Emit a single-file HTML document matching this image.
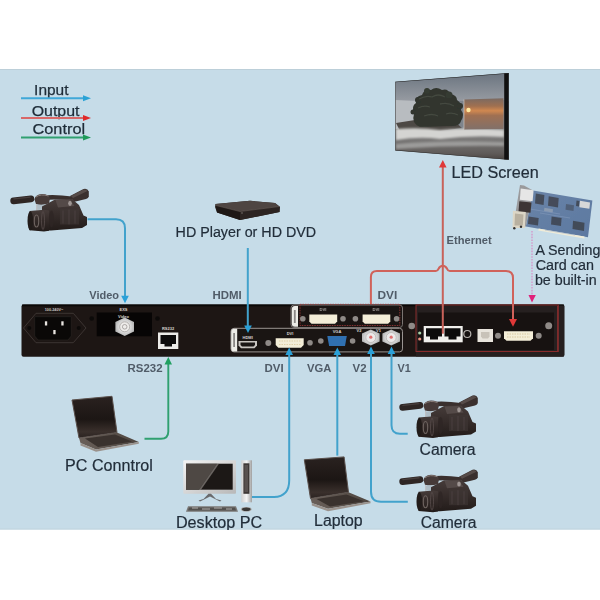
<!DOCTYPE html>
<html><head><meta charset="utf-8">
<style>
html,body{margin:0;padding:0;background:#fff;}
body{width:600px;height:600px;position:relative;overflow:hidden;font-family:"Liberation Sans",sans-serif;}
svg{position:absolute;left:0;top:0;filter:blur(0.55px);}
</style></head><body>
<svg width="600" height="600" viewBox="0 0 600 600" font-family="Liberation Sans, sans-serif">
<defs>
  <clipPath id="bgclip"><rect x="0" y="69" width="600" height="460.5"/></clipPath>
  <filter id="bl1" x="-20%" y="-20%" width="140%" height="140%"><feGaussianBlur stdDeviation="0.6"/></filter>
  <filter id="bl2" x="-20%" y="-20%" width="140%" height="140%"><feGaussianBlur stdDeviation="1.1"/></filter>
  <filter id="bl05" x="-20%" y="-20%" width="140%" height="140%"><feGaussianBlur stdDeviation="0.4"/></filter>
  <linearGradient id="camBody" x1="0" y1="0" x2="0" y2="1">
    <stop offset="0" stop-color="#463c3a"/><stop offset="0.5" stop-color="#352c2a"/><stop offset="1" stop-color="#231c1a"/>
  </linearGradient>
  <linearGradient id="camLens" x1="0" y1="0" x2="0" y2="1">
    <stop offset="0" stop-color="#463c3a"/><stop offset="0.5" stop-color="#332a28"/><stop offset="1" stop-color="#221b19"/>
  </linearGradient>
  <g id="cam">
    <!-- mic -->
    <line x1="402.6" y1="406.4" x2="420" y2="404.4" stroke="#2e2624" stroke-width="6.6" stroke-linecap="round"/>
    <line x1="403" y1="404.4" x2="419" y2="402.6" stroke="#4e4442" stroke-width="1.4" stroke-linecap="round" opacity="0.8"/>
    <!-- handle bar -->
    <path d="M430 401 Q445 399.5 461 402 L461 406 Q445 404 432 406Z" fill="#3a302e"/>
    <!-- grip -->
    <path d="M459 401.5 L472.5 394.5 Q476.5 393.5 477.8 397 L477.8 402 Q477.5 403.5 475 404.5 L462.5 407.5Z" fill="#3a302e"/>
    <path d="M460 401.5 L472.5 395 Q475.5 394.5 476.5 396.5 L462 403.5Z" fill="#5e524f" opacity="0.8"/>
    <!-- mount -->
    <path d="M423.5 405 Q424 400 431 399.5 Q438 399.5 439 404 L438 409 Q431 411 425 409.5Z" fill="#463a38"/>
    <path d="M425 402.5 Q430 399 437.5 401.5" stroke="#8a7e7a" stroke-width="1" fill="none"/>
    <path d="M426 410.5 L438 410.5 L440 415 L425 415.5Z" fill="#a8b4bc" opacity="0.8"/>
    <line x1="425.5" y1="410" x2="426" y2="417" stroke="#c0bec0" stroke-width="1"/>
    <!-- body -->
    <path d="M431 412 L444 405 L461 404.5 L468 410.5 L472.5 421 L476 422.5 L476 430.5 L471 433.5 L440 436 L431 436Z" fill="url(#camBody)"/>
    <path d="M444.5 405.5 L459 405 L463.5 411.5 L447 413Z" fill="#564c4a" opacity="0.9"/>
    <ellipse cx="459" cy="408.8" rx="1.8" ry="2.6" fill="#b8b0ae" opacity="0.75"/>
    <rect x="449" y="414" width="19" height="16" fill="#403735" opacity="0.6"/>
    <path d="M452 416 V429 M458 415 V430 M464 416 V429" stroke="#55494a" stroke-width="1" opacity="0.6"/>
    <!-- lens -->
    <path d="M418.5 416.5 L433 415.2 L438 416 L438 436.2 L433 437 L418.5 435.8Z" fill="url(#camLens)"/>
    <ellipse cx="419.3" cy="426.2" rx="2.8" ry="9.5" fill="#221c1a"/>
    <ellipse cx="425.5" cy="426.5" rx="2.2" ry="6" fill="none" stroke="#6e6460" stroke-width="1.1"/>
    <ellipse cx="432" cy="426" rx="1.5" ry="9" fill="none" stroke="#554a48" stroke-width="0.9"/>
    <ellipse cx="440.5" cy="424.5" rx="2.5" ry="8.5" fill="#2e2624" opacity="0.8"/>
  </g>
  <linearGradient id="sky" x1="0" y1="0" x2="0" y2="1">
    <stop offset="0" stop-color="#66707c"/><stop offset="1" stop-color="#9a9ea4"/>
  </linearGradient>
  <linearGradient id="sea" x1="0" y1="0" x2="0" y2="1">
    <stop offset="0" stop-color="#8c8e90"/><stop offset="0.5" stop-color="#868686"/><stop offset="0.85" stop-color="#5e5a58"/><stop offset="1" stop-color="#3e3834"/>
  </linearGradient>
  <linearGradient id="sunset" x1="0" y1="0" x2="0" y2="1">
    <stop offset="0" stop-color="#7a6a62"/><stop offset="0.25" stop-color="#a07050"/><stop offset="0.4" stop-color="#d08850"/><stop offset="0.55" stop-color="#a07052"/><stop offset="1" stop-color="#80706a"/>
  </linearGradient>
  <clipPath id="scr"><path d="M395.2 81.7 L508.75 72.9 L508.75 159.8 L395.2 150.4Z"/></clipPath>
  <linearGradient id="pcb" x1="0" y1="0" x2="1" y2="1">
    <stop offset="0" stop-color="#6a84a8"/><stop offset="1" stop-color="#5c78a0"/>
  </linearGradient>
  <linearGradient id="lapScr" x1="0" y1="0" x2="0" y2="1">
    <stop offset="0" stop-color="#2a2220"/><stop offset="0.55" stop-color="#1c1614"/><stop offset="0.85" stop-color="#3a302c"/><stop offset="1" stop-color="#2a2220"/>
  </linearGradient>
  <linearGradient id="lapBase" x1="0" y1="0" x2="1" y2="0">
    <stop offset="0" stop-color="#6a605a"/><stop offset="1" stop-color="#4e4640"/>
  </linearGradient>
  <linearGradient id="monScr" x1="0" y1="1" x2="1" y2="0">
    <stop offset="0" stop-color="#141414"/><stop offset="0.55" stop-color="#2a2a2a"/><stop offset="0.58" stop-color="#5a5a5a"/><stop offset="1" stop-color="#8a8a8a"/>
  </linearGradient>
  <linearGradient id="silver" x1="0" y1="0" x2="1" y2="1">
    <stop offset="0" stop-color="#f4f4f4"/><stop offset="1" stop-color="#b8b8b8"/>
  </linearGradient>
  <linearGradient id="tower" x1="0" y1="0" x2="1" y2="0">
    <stop offset="0" stop-color="#d0d0d0"/><stop offset="0.5" stop-color="#f4f4f4"/><stop offset="1" stop-color="#a0a0a0"/>
  </linearGradient>
  <radialGradient id="bncG" cx="0.5" cy="0.5" r="0.5">
    <stop offset="0" stop-color="#f0f0f0"/><stop offset="0.6" stop-color="#dcdcdc"/><stop offset="1" stop-color="#b8b8b8"/>
  </radialGradient>
</defs>
<rect x="0" y="69" width="600" height="460.5" fill="#c6dce8"/>
<rect x="0" y="69" width="600" height="1" fill="#bccfd9"/>
<rect x="0" y="528.5" width="600" height="1" fill="#c0d3dd"/>
<g clip-path="url(#bgclip)">

<!-- IMAGES -->
<use href="#cam" x="0" y="1"/>
<use href="#cam" x="-389" y="-205.5"/>
<use href="#cam" x="0" y="75.2"/>

<!-- LED screen -->
<g clip-path="url(#scr)">
  <rect x="390" y="70" width="120" height="33" fill="url(#sky)"/>
  <rect x="390" y="101" width="120" height="62" fill="url(#sea)"/>
  <g filter="url(#bl1)">
    <path d="M395 100 L418 101 L416 127 L395 129Z" fill="#b8bcc0"/>
    <path d="M455 101 L505 100 L505 129 L455 129Z" fill="#7e848c"/>
    <path d="M396 123 L415 120 L455 122 L462 128 L440 131 L400 131Z" fill="#4e4844"/>
    <path d="M414 114 Q411 106 416 103 Q415 96 422 95 Q424 89 431 90 Q436 86 442 90 Q448 88 450 94 Q457 95 457 100 Q463 104 461 110 Q465 115 461 121 Q460 126 452 126 L420 127 Q411 123 414 114Z" fill="#30352e"/>
    <circle cx="418" cy="100" r="3" fill="#30352e"/><circle cx="427" cy="91" r="3" fill="#343a32"/><circle cx="449" cy="95" r="3.5" fill="#343a32"/>
    <circle cx="460" cy="106" r="3" fill="#30352e"/><circle cx="413" cy="112" r="2.5" fill="#30352e"/>
    <path d="M419 99 Q426 95 432 97 Q438 93 445 97 M418 108 Q424 105 430 107 M440 104 Q448 102 454 106 M424 116 Q432 113 438 116 M446 114 Q452 112 458 115" stroke="#4a4e44" stroke-width="1.3" fill="none" opacity="0.8"/>
  </g>
  <g filter="url(#bl2)">
    <path d="M396 129 Q420 127 440 130 Q470 127 504 130 L504 137 Q470 135 440 139 Q420 136 396 140Z" fill="#d4d4d2"/>
    <path d="M396 144 Q440 140 504 142 L504 146 Q450 145 396 149Z" fill="#a8a8a6" opacity="0.8"/>
  </g>
  <path d="M464 99.4 L503.5 98.2 L503.5 129 L464 129.6Z" fill="url(#sunset)"/>
  <path d="M464 99.4 L464 129.6" stroke="#d8d0c8" stroke-width="1" opacity="0.6"/>
  <circle cx="468.5" cy="110" r="2.2" fill="#ffe8a0" filter="url(#bl05)"/>
  <path d="M504.2 70 L510 70 L510 162 L504.2 162Z" fill="#111"/>
  <path d="M395.2 81.7 L508.75 72.9" stroke="#222" stroke-width="1.2"/>
  <path d="M395.2 150.4 L508.75 159.8" stroke="#333" stroke-width="1"/>
  <path d="M395.2 81.7 L395.2 150.4" stroke="#444" stroke-width="1"/>
</g>

<!-- HD player -->
<path d="M215.5 204 L250 200.8 L275 203 L280 207 L279.5 212 L240 220 L217 212.5 L215 207Z" fill="#2a2321"/>
<path d="M215.5 204 L250 200.8 L275 203 L279.5 206.5 L240 211.5 L216 205.5Z" fill="#4e4542"/>
<path d="M216 205.5 L240 211.5 L240 220 L217 212.5Z" fill="#1e1816"/>
<path d="M240 211.5 L279.5 206.5 L279.5 212 L240 220Z" fill="#2c2422"/>
<path d="M216 205.5 L240 211.5 L279.5 206.5" fill="none" stroke="#6a605a" stroke-width="0.6"/>
<circle cx="242" cy="213" r="0.7" fill="#8a8480"/>

<!-- sending card -->
<g filter="url(#bl05)">
<path d="M533 190.6 L592.4 200.6 L588 237.2 L525.8 226.4Z" fill="url(#pcb)"/>
<path d="M538.7 228.6 L584.5 236.5 L584.3 238.6 L538.3 230.6Z" fill="#f0ecd8"/>
<g fill="#3c4048" opacity="0.8">
  <path d="M535.8 193.5 L544.4 195 L543.6 205 L535 203.5Z"/>
  <path d="M548.7 196.3 L558.7 198 L558 207.5 L548 205.8Z"/>
  <path d="M528.6 216.4 L538.7 218 L538 225.5 L528 224Z"/>
  <path d="M551.6 216.4 L561.6 218 L561 226 L551 224.4Z"/>
  <path d="M573 220.7 L584.5 222.7 L584 231 L572.5 229Z"/>
  <path d="M566 204 L574 205.3 L573.5 211 L565.5 209.7Z" opacity="0.6"/>
  <path d="M576.5 200.5 L579.5 201 L579 206.5 L576 206Z"/>
</g>
<path d="M544.4 207.8 L553 209.2 L552.6 212.5 L544 211Z" fill="#8a9ab0"/>
<path d="M580 200.8 L590 202.5 L589.4 208.8 L579.4 207.2Z" fill="#d8d8d8"/>
<path d="M540 213 L570 218 M530 209 L560 214 M545 230 L575 235" stroke="#8aa0c0" stroke-width="0.8" opacity="0.6"/>
<path d="M520 184.9 L524 185.5 L533 190.6 L525.8 226.4 L513 228.5Z" fill="#9a9a9c"/>
<path d="M520.7 188.5 L533.6 190.3 L532.6 201.3 L519.9 199.8Z" fill="#e6e6e6"/>
<path d="M519.3 201.3 L531.5 202.5 L530.5 212.8 L518.5 211.8Z" fill="#3e3634"/>
<path d="M512.9 210.7 L525.8 212 L524.8 227.9 L512.5 228Z" fill="#dcd6c6"/>
<path d="M515 213.5 L523.5 214.5 L522.8 225.5 L514.5 225.5Z" fill="#b8b0a0"/>
<circle cx="514.3" cy="228.3" r="1.2" fill="#333"/>
<circle cx="521" cy="226.8" r="1.2" fill="#333"/>
</g>

<!-- PC control laptop -->
<path d="M72 400 L112 396.3 L117 432.5 L79 438Z" fill="url(#lapScr)" stroke="#5a504c" stroke-width="1"/>
<path d="M79 438 L117 432.5 L138.8 442 L96 449.5 L80.5 443Z" fill="url(#lapBase)"/>
<path d="M85 438.5 L115 434.5 L132 441.5 L98 447Z" fill="#3a322e"/>
<path d="M80.5 443 L96 449.5 L138.8 442 L138.8 443.8 L96 451.8 L80.5 445.5Z" fill="#9a928c"/>

<!-- Laptop -->
<path d="M304.3 459.8 L344.1 456.9 L348.5 492.3 L310.5 498.5Z" fill="url(#lapScr)" stroke="#5a504c" stroke-width="1"/>
<path d="M310.5 498.5 L348.5 492.3 L370.5 501.5 L328 508.8 L311.8 503Z" fill="url(#lapBase)"/>
<path d="M316.5 499 L346.5 494.5 L364 501.2 L330 506.5Z" fill="#3a322e"/>
<path d="M311.8 503 L328 508.8 L370.5 501.5 L370.5 503.3 L328 511.3 L311.8 505.5Z" fill="#9a928c"/>

<!-- Desktop PC -->
<rect x="183.3" y="460.3" width="52.7" height="33.4" rx="1" fill="url(#silver)"/>
<rect x="186" y="463.7" width="46.7" height="26" fill="#1c1816"/>
<path d="M186 463.7 L217 463.7 L199 489.7 L186 489.7Z" fill="#4e4844"/>
<path d="M217 463.7 L219 463.7 L201 489.7 L199 489.7Z" fill="#8a8480" opacity="0.7"/>
<path d="M208.5 493.7 L211 493.7 L216 499 L221.5 500.5 L220 501.5 L210 496.5 L200 501.5 L198.5 500.5 L203.5 499Z" fill="#6a6a6c"/>
<rect x="241.3" y="460.3" width="10.7" height="42" fill="url(#tower)"/>
<rect x="243.4" y="463.3" width="6" height="30.5" fill="#3e3836"/>
<rect x="244.5" y="465" width="3.5" height="27" fill="#6a6260" opacity="0.6"/>
<path d="M188 506.3 L236 506.3 L238 511.7 L186 511.7Z" fill="#7a7876"/>
<path d="M189 507.5 L235 507.5 L236 510.5 L188 510.5Z" fill="#52504e"/>
<path d="M192 508 H198 M202 509 H210 M214 508 H222 M226 509 H232" stroke="#b0aeac" stroke-width="1"/>
<ellipse cx="246.3" cy="509.3" rx="5.3" ry="2.4" fill="#aaa8a6"/>
<ellipse cx="246.3" cy="509.3" rx="4.3" ry="1.8" fill="#3a3836"/>

<!-- DEVICE -->
<g id="device">
  <rect x="21.5" y="304.5" width="543" height="52.3" rx="2" fill="#1d1614"/>
  <rect x="22" y="304.5" width="542" height="1.8" fill="#0a0807"/>
  <!-- power -->
  <path d="M23.5 328 L36 313.3 L73.3 313.3 L86 328 L73.3 342.7 L36 342.7Z" fill="none" stroke="#403836" stroke-width="0.9"/>
  <circle cx="29.3" cy="328" r="2" fill="#0c0a09"/>
  <circle cx="78.7" cy="328" r="2" fill="#0c0a09"/>
  <path d="M34.7 316.7 H71.3 V336 L68 340 H38 L34.7 336Z" fill="#0a0807" stroke="#2a2624" stroke-width="0.6"/>
  <rect x="44.9" y="321.3" width="2.3" height="4.2" fill="#e8e4e0"/>
  <rect x="61.3" y="321.3" width="2.3" height="4.2" fill="#e8e4e0"/>
  <rect x="53.3" y="330" width="2.3" height="4.2" fill="#e8e4e0"/>
  <text x="54" y="311" font-size="3.8" fill="#c8c4c0" text-anchor="middle" font-weight="bold">100-240V~</text>
  <!-- EXS video -->
  <rect x="96.7" y="312.5" width="55.3" height="23.8" fill="#070505"/>
  <text x="123.5" y="310.5" font-size="4" fill="#d8d4d0" text-anchor="middle" font-weight="bold">EXS</text>
  <text x="123.5" y="317.5" font-size="4" fill="#d8d4d0" text-anchor="middle" font-weight="bold">Video</text>
  <circle cx="91.7" cy="318.5" r="2.3" fill="#0c0a09"/>
  <circle cx="157.5" cy="318.5" r="2.3" fill="#0c0a09"/>
  <path d="M124.7 317.5 L134 322 L134 331.5 L124.7 336 L115.4 331.5 L115.4 322Z" fill="url(#bncG)"/>
  <circle cx="124.7" cy="326.8" r="5" fill="#eeecea" stroke="#a8a4a2" stroke-width="0.8"/>
  <circle cx="124.7" cy="326.8" r="2.3" fill="none" stroke="#9a9694" stroke-width="0.8"/>
  <!-- RS232 -->
  <text x="168" y="329.5" font-size="4" fill="#d8d4d0" text-anchor="middle" font-weight="bold">RS232</text>
  <rect x="158" y="332.5" width="20.3" height="16.5" fill="#ecebe8"/>
  <path d="M160.5 335 H176 V344 H172 V346.5 H164.5 V344 H160.5Z" fill="#0c0b0b"/>

  <!-- middle lower module -->
  <rect x="231" y="328.3" width="171.5" height="23.6" rx="3" fill="#1a1513" stroke="#9a9492" stroke-width="1"/>
  <path d="M237.2 328.8 V351.6 H234 Q231.2 351.6 231.2 348.5 V331.8 Q231.2 328.8 234 328.8Z" fill="#ecebe6"/>
  <rect x="233.2" y="333" width="1.8" height="14" fill="#6a6664" opacity="0.75"/>
  <text x="247.7" y="338.5" font-size="4" fill="#d8d4d0" text-anchor="middle" font-weight="bold">HDMI</text>
  <path d="M238.5 341 H257 V345.5 L254.5 348.3 H241 L238.5 345.5Z" fill="#c8c4c0"/>
  <path d="M240.5 342.6 H255 V345 L253.5 346.6 H242 L240.5 345Z" fill="#1a1615"/>
  <circle cx="268.3" cy="343" r="3" fill="#8f8a87"/>
  <text x="290" y="334.5" font-size="4" fill="#d8d4d0" text-anchor="middle" font-weight="bold">DVI</text>
  <path d="M275.7 338.3 H303.7 V345 L301 347.7 H278.4 L275.7 345Z" fill="#f4eed8"/>
  <path d="M279 341 H300.5 M279 344.5 H300.5" stroke="#e0d0a8" stroke-width="1" stroke-dasharray="1.5 1"/>
  <path d="M312.3 317.3 H334.3 M312.3 320.7 H334.3" stroke="#e0d0a8" stroke-width="1" stroke-dasharray="1.5 1"/>
  <path d="M365.6 317.3 H387.5 M365.6 320.7 H387.5" stroke="#e0d0a8" stroke-width="1" stroke-dasharray="1.5 1"/>
  <circle cx="310" cy="342.8" r="2.8" fill="#8f8a87"/>
  <circle cx="320.8" cy="341" r="2.8" fill="#8f8a87"/>
  <text x="337" y="333" font-size="4" fill="#d8d4d0" text-anchor="middle" font-weight="bold">VGA</text>
  <path d="M327.3 336 H346.8 L345 346 H329.1Z" fill="#3070b0"/>
  <circle cx="352.6" cy="341" r="2.8" fill="#8f8a87"/>
  <text x="359" y="332" font-size="4" fill="#d8d4d0" text-anchor="middle" font-weight="bold">V2</text>
  <text x="378.5" y="332" font-size="4" fill="#d8d4d0" text-anchor="middle" font-weight="bold">V1</text>
  <g id="bnc">
    <path d="M370.8 329.6 L379.6 333.5 L379.6 341.5 L370.8 345.4 L362 341.5 L362 333.5Z" fill="url(#bncG)"/>
    <circle cx="370.8" cy="337.5" r="5" fill="#eceaea" stroke="#b0acaa" stroke-width="0.7"/>
    <circle cx="370.8" cy="337.2" r="1.6" fill="#e07070"/>
  </g>
  <use href="#bnc" x="20.4"/>

  <!-- upper module -->
  <rect x="291" y="305" width="111.5" height="22.5" rx="3" fill="#1a1513" stroke="#7a7472" stroke-width="1"/>
  <path d="M298 306.1 V326.8 H294.8 Q291.8 326.8 291.8 323.8 V309.1 Q291.8 306.1 294.8 306.1Z" fill="#ecebe6"/>
  <rect x="293.9" y="310" width="1.8" height="13" fill="#6a6664" opacity="0.75"/>
  <rect x="300" y="304.3" width="99.8" height="21.2" fill="none" stroke="#a03838" stroke-width="0.8" stroke-dasharray="1.5 1"/>
  <text x="323" y="311" font-size="4.2" fill="#a8a4a0" text-anchor="middle" font-weight="bold">DVI</text>
  <text x="376" y="311" font-size="4.2" fill="#a8a4a0" text-anchor="middle" font-weight="bold">DVI</text>
  <path d="M309.3 314.4 H337.2 V321.5 L335 323.8 H311.5 L309.3 321.5Z" fill="#f4eed8"/>
  <path d="M362.6 314.4 H390.3 V321.5 L388.1 323.8 H364.8 L362.6 321.5Z" fill="#f4eed8"/>
  <circle cx="302.8" cy="318.8" r="2.8" fill="#8f8a87"/>
  <circle cx="343" cy="318.8" r="2.8" fill="#8f8a87"/>
  <circle cx="355.4" cy="318.8" r="2.8" fill="#8f8a87"/>
  <circle cx="396.6" cy="318.8" r="2.8" fill="#8f8a87"/>

  <!-- right module -->
  <rect x="416" y="305.5" width="148" height="51" fill="#262020"/>
  <rect x="418" y="312.5" width="136" height="37.5" fill="#171211"/>
  <rect x="557" y="306" width="1" height="45" fill="#7a2c2c"/>
  <rect x="416" y="305" width="142.3" height="46.5" fill="none" stroke="#8a2c2c" stroke-width="1"/>
  <circle cx="411.7" cy="326" r="3.3" fill="#8f8a87"/>
  <circle cx="419.7" cy="333" r="1.6" fill="#a8d0a8"/>
  <circle cx="419.7" cy="339" r="1.6" fill="#e89080"/>
  <rect x="423.7" y="326" width="39" height="16.3" fill="#f0efec"/>
  <path d="M426 328.3 H442 V336.5 H438 V339.5 H430 V336.5 H426Z" fill="#0c0b0b"/>
  <path d="M444.5 328.3 H460.5 V336.5 H456.5 V339.5 H448.5 V336.5 H444.5Z" fill="#0c0b0b"/>
  <circle cx="467.3" cy="334" r="3.5" fill="none" stroke="#b8b4b0" stroke-width="1.2"/>
  <rect x="477.5" y="329" width="15.5" height="13" fill="#e8e4dc"/>
  <path d="M481 332 H489.5 V336.5 L488 338.5 H482.5 L481 336.5Z" fill="#c8c2b8"/>
  <circle cx="498" cy="335.8" r="3" fill="#8f8a87"/>
  <path d="M504 331.3 H533 V338.3 L530.5 340.8 H506.5 L504 338.3Z" fill="#f4eed8"/>
  <path d="M507 334 H530 M507 337 H530" stroke="#d8c8a0" stroke-width="1" stroke-dasharray="1.5 1"/>
  <circle cx="538.7" cy="335.8" r="3" fill="#8f8a87"/>
  <circle cx="548.7" cy="325.8" r="3.5" fill="#8f8a87"/>
</g>

<!-- LINES -->
<g fill="none" stroke-width="2">
  <path d="M87.5 219.3 H116 Q125 219.3 125 228.3 V297" stroke="#42a2cc"/>
  <path d="M247.8 248 V327" stroke="#42a2cc"/>
  <path d="M252 497.1 H272.5 Q289.2 497.1 289.2 480.4 V354" stroke="#42a2cc"/>
  <path d="M337.3 455.6 V354" stroke="#42a2cc"/>
  <path d="M407.8 501.8 H381 Q371 501.8 371 491.8 V351" stroke="#42a2cc"/>
  <path d="M407.7 433.7 H400 Q391.5 433.7 391.5 425.2 V351" stroke="#42a2cc"/>
  <path d="M144.5 438.7 H161 Q168.3 438.7 168.3 431.4 V363" stroke="#30a070" stroke-width="1.9"/>
  <path d="M442.8 333.7 V167" stroke="#c8625a"/>
  <path d="M370.9 304 V277 Q370.9 271 376.9 271 H435.8 Q437.8 271 438.4 269 Q440 265.8 442.8 265.8 Q445.6 265.8 447.2 269 Q447.8 271 449.8 271 H506 Q513 271 513 278 V320" stroke="#d0625a"/>
  <path d="M532 231 V295" stroke="#d49ccc" stroke-width="1.5" stroke-dasharray="1.6 1.2"/>
</g>
<g>
  <path d="M121.2 295.8 L128.8 295.8 L125 303.3Z" fill="#2aa0d8"/>
  <path d="M244.2 325.5 L251.8 325.5 L248 333Z" fill="#2aa0d8"/>
  <path d="M285.4 355 L293 355 L289.2 347.5Z" fill="#2aa0d8"/>
  <path d="M333.5 355 L341.1 355 L337.3 347.5Z" fill="#2aa0d8"/>
  <path d="M367.2 354 L374.8 354 L371 346.5Z" fill="#2aa0d8"/>
  <path d="M387.7 354 L395.3 354 L391.5 346.5Z" fill="#2aa0d8"/>
  <path d="M164.5 364.5 L172 364.5 L168.3 357Z" fill="#20a060"/>
  <path d="M439 167.6 L446.6 167.6 L442.8 160Z" fill="#e03838"/>
  <path d="M509 319 L517 319 L513 326.7Z" fill="#e03838"/>
  <path d="M528.5 295 L535.8 295 L532 302.5Z" fill="#e0207a"/>
</g>

<!-- legend -->
<g fill="#1e2c38" stroke="#1e2c38" stroke-width="0.25" font-size="15.5">
  <text x="34.1" y="94.6" textLength="34.4" lengthAdjust="spacingAndGlyphs">Input</text>
  <text x="31.7" y="115.7" textLength="47.8" lengthAdjust="spacingAndGlyphs">Output</text>
  <text x="32.5" y="134.0" textLength="52.6" lengthAdjust="spacingAndGlyphs">Control</text>
</g>
<line x1="21" y1="98.2" x2="84" y2="98.2" stroke="#40a8d8" stroke-width="2"/>
<path d="M83 95.2 L91 98.2 L83 101.2Z" fill="#2aa3d6"/>
<line x1="21" y1="118" x2="84" y2="118" stroke="#d86868" stroke-width="2"/>
<path d="M83 115 L91 118 L83 121Z" fill="#e02a2a"/>
<line x1="21" y1="137.5" x2="84" y2="137.5" stroke="#30a070" stroke-width="2"/>
<path d="M83 134.5 L91 137.5 L83 140.5Z" fill="#1f9a5a"/>

<!-- big labels -->
<g fill="#222e3a" stroke="#222e3a" stroke-width="0.2" font-size="15.5">
  <text x="175.6" y="236.9" textLength="140.5" lengthAdjust="spacingAndGlyphs">HD Player or HD DVD</text>
  <text x="451.5" y="177.9" font-size="16" textLength="87.2" lengthAdjust="spacingAndGlyphs">LED Screen</text>
  <text x="535.4" y="254.6" font-size="14" textLength="65" lengthAdjust="spacingAndGlyphs">A Sending</text>
  <text x="535.7" y="269.6" textLength="58.2" lengthAdjust="spacingAndGlyphs" font-size="14">Card can</text>
  <text x="534.9" y="285.3" textLength="61.8" lengthAdjust="spacingAndGlyphs" font-size="14">be built-in</text>
  <text x="65.1" y="470.6" font-size="16" textLength="87.7" lengthAdjust="spacingAndGlyphs">PC Conntrol</text>
  <text x="175.9" y="528.1" font-size="16" textLength="86.4" lengthAdjust="spacingAndGlyphs">Desktop PC</text>
  <text x="314.1" y="525.9" font-size="16" textLength="48.5" lengthAdjust="spacingAndGlyphs">Laptop</text>
  <text x="419.5" y="454.5" font-size="16" textLength="56.1" lengthAdjust="spacingAndGlyphs">Camera</text>
  <text x="420.7" y="527.7" font-size="16" textLength="55.8" lengthAdjust="spacingAndGlyphs">Camera</text>
</g>
<g fill="#505c68" font-size="11" font-weight="bold">
  <text x="446.5" y="244" textLength="45.2" lengthAdjust="spacingAndGlyphs">Ethernet</text>
  <text x="89.3" y="298.7" textLength="29.8" lengthAdjust="spacingAndGlyphs">Video</text>
  <text x="212.5" y="299" textLength="29.2" lengthAdjust="spacingAndGlyphs">HDMI</text>
  <text x="377.5" y="299.2" textLength="19.8" lengthAdjust="spacingAndGlyphs">DVI</text>
  <text x="127.5" y="372" textLength="35" lengthAdjust="spacingAndGlyphs">RS232</text>
  <text x="264.5" y="371.5" textLength="19.1" lengthAdjust="spacingAndGlyphs">DVI</text>
  <text x="307.1" y="371.5" textLength="24.4" lengthAdjust="spacingAndGlyphs">VGA</text>
  <text x="352.5" y="371.5" textLength="14" lengthAdjust="spacingAndGlyphs">V2</text>
  <text x="397.5" y="371.5" textLength="13.2" lengthAdjust="spacingAndGlyphs">V1</text>
</g>

</g>
</svg>
</body></html>
